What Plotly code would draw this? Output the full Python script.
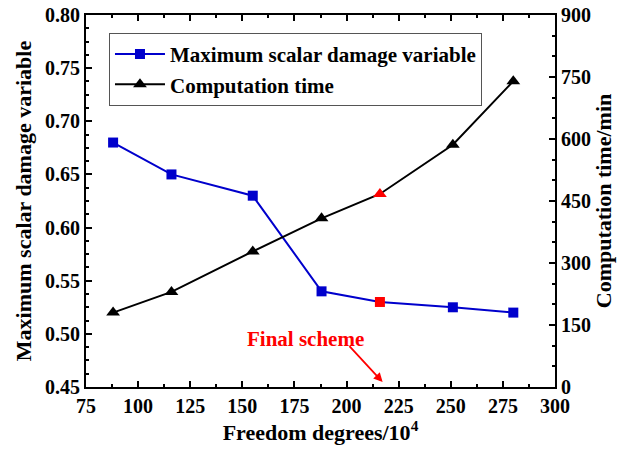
import plotly.graph_objects as go

# Mesh refinement study: degrees of freedom (x10^4) vs. damage and run time
freedom_degrees = [88, 116, 155, 188, 216, 251, 280]
max_damage = [0.68, 0.65, 0.63, 0.54, 0.53, 0.525, 0.52]
computation_time = [180, 230, 328, 408, 467, 586, 740]
final_index = 4  # the adopted mesh

x_ticks = [75, 100, 125, 150, 175, 200, 225, 250, 275, 300]
y_ticks = [0.45, 0.50, 0.55, 0.60, 0.65, 0.70, 0.75, 0.80]
y2_ticks = [0, 150, 300, 450, 600, 750, 900]

BLUE = "#0000CC"
RED = "#FF0000"
FONT = "Liberation Serif"

damage_colors = [RED if i == final_index else BLUE for i in range(len(max_damage))]
time_colors = [RED if i == final_index else "black" for i in range(len(computation_time))]

fig = go.Figure()
fig.add_trace(go.Scatter(
    x=freedom_degrees, y=max_damage, mode="lines+markers",
    name="Maximum scalar damage variable",
    line=dict(color=BLUE, width=2),
    marker=dict(symbol="square", size=10, color=damage_colors),
))
fig.add_trace(go.Scatter(
    x=freedom_degrees, y=computation_time, mode="lines+markers",
    name="Computation time", yaxis="y2",
    line=dict(color="black", width=2),
    marker=dict(symbol="triangle-up", size=12, color=time_colors),
))

axis_common = dict(
    showline=True, linecolor="black", linewidth=2,
    ticks="inside", ticklen=6, tickwidth=2, tickcolor="black",
    showgrid=False, zeroline=False, automargin=False,
    tickfont=dict(family=FONT, size=20, color="black", weight="bold"),
)
title_font = dict(family=FONT, size=22, color="black", weight="bold")

fig.update_layout(
    width=619, height=456,
    margin=dict(l=86, r=64, t=15, b=69),
    paper_bgcolor="white", plot_bgcolor="white",
    font=dict(family=FONT, color="black", weight="bold"),
    showlegend=True,
    legend=dict(
        x=0.049, y=0.952, xanchor="left", yanchor="top",
        bordercolor="#555555", borderwidth=1, bgcolor="white",
        font=dict(family=FONT, size=21, color="black", weight="bold"),
        itemwidth=50, tracegroupgap=0,
    ),
    xaxis=dict(
        range=[75, 300], tickvals=x_ticks, mirror="ticks",
        minor=dict(dtick=12.5, tick0=75, ticks="inside", ticklen=3, tickwidth=2, tickcolor="black"),
        title=dict(text="Freedom degrees/10<sup>4</sup>", standoff=6, font=title_font),
        **axis_common,
    ),
    yaxis=dict(
        range=[0.45, 0.80], tickvals=y_ticks, tickformat=".2f",
        minor=dict(dtick=0.0125, tick0=0.45, ticks="inside", ticklen=3, tickwidth=2, tickcolor="black"),
        title=dict(text="Maximum scalar damage variable", standoff=7, font=title_font),
        **axis_common,
    ),
    yaxis2=dict(
        range=[0, 900], tickvals=y2_ticks, overlaying="y", side="right",
        minor=dict(dtick=50, tick0=0, ticks="inside", ticklen=3, tickwidth=2, tickcolor="black"),
        title=dict(text="Computation time/min", standoff=6, font=title_font),
        **axis_common,
    ),
)

# Label and arrow marking the adopted mesh
fig.add_annotation(
    x=180.5, y=0.4954, xref="x", yref="y", text="Final scheme", showarrow=False,
    font=dict(family=FONT, size=21, color=RED, weight="bold"),
)
fig.add_annotation(
    x=freedom_degrees[final_index] + 1.3, y=0.4547, xref="x", yref="y",
    ax=200.7, ay=0.4898, axref="x", ayref="y", text="",
    showarrow=True, arrowhead=2, arrowsize=1, arrowwidth=1.8, arrowcolor=RED, standoff=0,
)

fig.write_html("out.html")
